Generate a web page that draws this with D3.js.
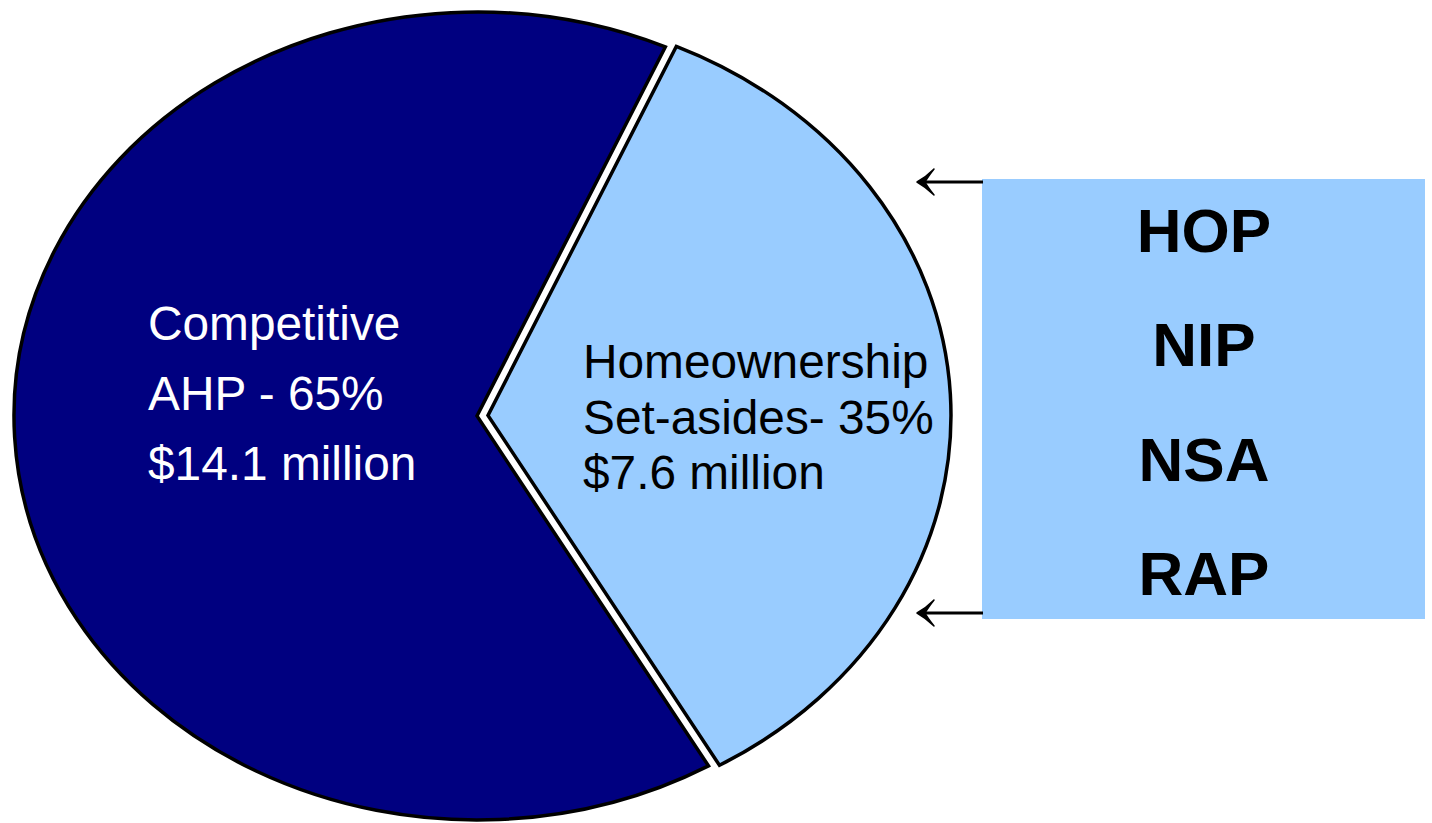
<!DOCTYPE html>
<html>
<head>
<meta charset="utf-8">
<script src="https://cdn.jsdelivr.net/npm/d3@7"></script>
<style>
  html, body { margin: 0; padding: 0; background: #fff; }
  svg { display: block; }
  text { font-family: "Liberation Sans", Arial, sans-serif; }
</style>
</head>
<body>
<svg id="chart" width="1432" height="823"></svg>
<script>
// ---- data ----
const categories = ["Homeownership Set-asides", "Competitive AHP"];
const shares = [35, 65];
const labelLines = [
  ["Homeownership", "Set-asides- 35%", "$7.6 million"],
  ["Competitive", "AHP - 65%", "$14.1 million"]
];
const sliceColors = ["#99CCFF", "#000080"];
const labelColors = ["#000000", "#FFFFFF"];
const programs = ["HOP", "NIP", "NSA", "RAP"];

// ---- layout ----
const svg = d3.select("#chart");
const cx = 477, cy = 416, rx = 463, ry = 404;
const startDeg = 24;
const explode = [11, 0];

const pie = d3.pie().sort(null).value(d => d.value)
  .startAngle(startDeg * Math.PI / 180)
  .endAngle(startDeg * Math.PI / 180 + 2 * Math.PI);
const data = categories.map((c, i) => ({ name: c, value: shares[i], i }));
const arcs = pie(data);
const arc = d3.arc().innerRadius(0).outerRadius(rx);

const gPie = svg.append("g").attr("transform", `translate(${cx},${cy})`);
arcs.forEach((a, k) => {
  const mid = (a.startAngle + a.endAngle) / 2;
  const off = explode[k];
  const dx = off * Math.sin(mid), dy = -off * Math.cos(mid);
  gPie.append("g")
    .attr("transform", `translate(${dx},${dy})`)
    .append("path")
    .attr("d", arc(a))
    .attr("transform", `scale(1,${ry / rx})`)
    .attr("fill", sliceColors[a.data.i])
    .attr("stroke", "#000")
    .attr("stroke-width", 3.5)
    .attr("stroke-linejoin", "miter")
    .attr("vector-effect", "non-scaling-stroke");
});

// slice labels
const labelPos = [
  { x: 583, y0: 378, dy: 55.5 },
  { x: 148, y0: 340, dy: 70 }
];
labelLines.forEach((lines, i) => {
  const p = labelPos[i];
  const t = svg.append("text")
    .attr("fill", labelColors[i])
    .attr("font-size", 47.8);
  lines.forEach((ln, j) => {
    t.append("tspan").attr("x", p.x).attr("y", p.y0 + j * p.dy).text(ln);
  });
});

// program box
const box = { x: 982, y: 179, w: 443, h: 440 };
svg.append("rect")
  .attr("x", box.x).attr("y", box.y)
  .attr("width", box.w).attr("height", box.h)
  .attr("fill", "#99CCFF");

const yProg = d3.scalePoint().domain(programs).range([252, 595]);
svg.selectAll("text.prog").data(programs).enter().append("text")
  .attr("class", "prog")
  .attr("x", 1204)
  .attr("y", d => yProg(d))
  .attr("text-anchor", "middle")
  .attr("font-size", 62)
  .attr("font-weight", "bold")
  .attr("fill", "#000")
  .text(d => d);

// arrows
[182, 613].forEach(y => {
  svg.append("line")
    .attr("x1", box.x + 1).attr("x2", 922)
    .attr("y1", y).attr("y2", y)
    .attr("stroke", "#000").attr("stroke-width", 3);
  const tx = 917;
  svg.append("path")
    .attr("d", `M${tx},${y} Q${tx + 9},${y - 5} ${tx + 17},${y - 13} Q${tx + 10},${y - 4} ${tx + 8},${y} Q${tx + 10},${y + 4} ${tx + 17},${y + 13} Q${tx + 9},${y + 5} ${tx},${y} Z`)
    .attr("fill", "#000")
    .attr("stroke", "#000")
    .attr("stroke-width", 1.5)
    .attr("stroke-linejoin", "round");
});
</script>
</body>
</html>
